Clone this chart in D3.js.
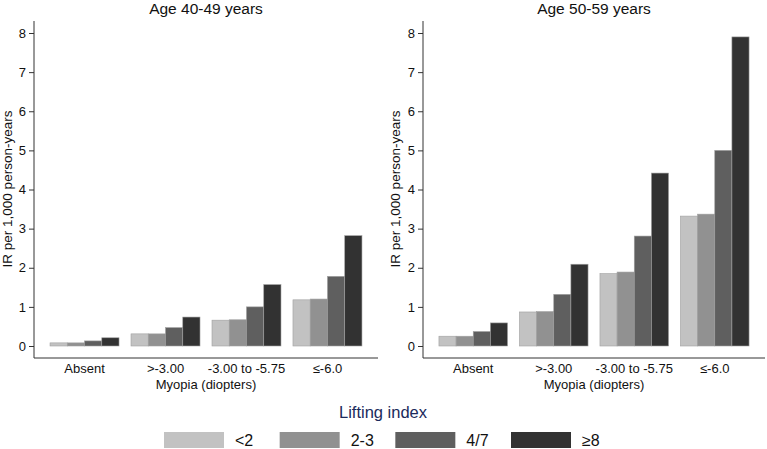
<!DOCTYPE html>
<html>
<head>
<meta charset="utf-8">
<script src="https://cdn.jsdelivr.net/npm/d3@7"></script>
<style>
  body { margin: 0; background: #fff; }
  text { font-family: "Liberation Sans", Arial, sans-serif; fill: #111; }
</style>
</head>
<body>
<div id="chart"></div>
<script>
// data
var categories = ["Absent", ">-3.00", "-3.00 to -5.75", "\u2264-6.0"]
var series = ["<2", "2-3", "4/7", "\u22658"]
var colors = ["#c2c2c2", "#919191", "#5f5f5f", "#323232"]
var yTicks = [0, 1, 2, 3, 4, 5, 6, 7, 8]

var age4049 = [
  [0.08, 0.08, 0.13, 0.21],
  [0.31, 0.31, 0.47, 0.74],
  [0.66, 0.67, 1.00, 1.57],
  [1.18, 1.20, 1.78, 2.82]
]
var age5059 = [
  [0.25, 0.25, 0.37, 0.59],
  [0.87, 0.88, 1.32, 2.09],
  [1.85, 1.89, 2.81, 4.42],
  [3.32, 3.37, 5.00, 7.90]
]

var width = 767
var height = 449

var svg = d3.select("#chart")
  .append("svg")
  .attr("width", width)
  .attr("height", height)

var y = d3.scaleLinear().domain([0, 8]).range([346, 33])

function drawPanel(title, data, left, right, yLabelX) {
  var g = svg.append("g")
  var axisY = 358

  var x0 = d3.scaleBand()
    .domain(categories)
    .range([left, right])
    .paddingInner(0.148)
    .paddingOuter(0.198)

  var x1 = d3.scaleBand()
    .domain(series)
    .range([0, x0.bandwidth()])

  // bars
  categories.forEach(function(cat, i) {
    g.selectAll(".bar" + i)
      .data(data[i])
      .enter()
      .append("rect")
      .attr("x", function(d, j) { return x0(cat) + x1(series[j]) })
      .attr("y", function(d) { return y(d) })
      .attr("width", x1.bandwidth())
      .attr("height", function(d) { return y(0) - y(d) })
      .attr("fill", function(d, j) { return colors[j] })
      .attr("stroke", "#a0a0a0")
      .attr("stroke-width", 0.6)
  })

  // y axis
  var yAxis = d3.axisLeft(y).tickValues(yTicks).tickSize(5).tickPadding(3)
  var ya = g.append("g")
    .attr("transform", "translate(" + left + ",0)")
    .call(yAxis)
  ya.select(".domain").remove()
  ya.append("line")
    .attr("x1", 0).attr("x2", 0)
    .attr("y1", 21).attr("y2", axisY)
    .attr("stroke", "#333")
  ya.selectAll(".tick line").attr("stroke", "#333")
  ya.selectAll(".tick text")
    .style("font-size", "13px")
    .attr("fill", "#111")

  // x axis line + labels
  g.append("line")
    .attr("x1", left).attr("x2", right)
    .attr("y1", axisY).attr("y2", axisY)
    .attr("stroke", "#333")

  g.selectAll(".cat")
    .data(categories)
    .enter()
    .append("text")
    .attr("x", function(d) { return x0(d) + x0.bandwidth() / 2 })
    .attr("y", 373)
    .attr("text-anchor", "middle")
    .style("font-size", "13px")
    .text(function(d) { return d })

  var mid = (left + right) / 2 + (x0(categories[0]) - left) / 2 - 8
  g.append("text")
    .attr("x", (x0(categories[0]) + x0(categories[3]) + x0.bandwidth()) / 2)
    .attr("y", 389)
    .attr("text-anchor", "middle")
    .style("font-size", "13px")
    .text("Myopia (diopters)")

  g.append("text")
    .attr("x", (x0(categories[0]) + x0(categories[3]) + x0.bandwidth()) / 2)
    .attr("y", 14)
    .attr("text-anchor", "middle")
    .style("font-size", "15.5px")
    .text(title)

  g.append("text")
    .attr("transform", "translate(" + yLabelX + ",189) rotate(-90)")
    .attr("text-anchor", "middle")
    .style("font-size", "13.5px")
    .text("IR per 1,000 person-years")
}

drawPanel("Age 40-49 years", age4049, 34, 378, 12)
drawPanel("Age 50-59 years", age5059, 423, 765, 400)

// legend
var legend = svg.append("g")
legend.append("text")
  .attr("x", 383)
  .attr("y", 418)
  .attr("text-anchor", "middle")
  .style("font-size", "16.5px")
  .style("fill", "#1b2a5c")
  .text("Lifting index")

var legendX = d3.scalePoint().domain(series).range([164, 511])

var items = legend.selectAll(".item")
  .data(series)
  .enter()
  .append("g")
  .attr("transform", function(d) { return "translate(" + legendX(d) + ",432)" })

items.append("rect")
  .attr("width", 60)
  .attr("height", 16)
  .attr("fill", function(d, i) { return colors[i] })

items.append("text")
  .attr("x", 71)
  .attr("y", 14)
  .style("font-size", "16px")
  .text(function(d) { return d })
</script>
</body>
</html>
